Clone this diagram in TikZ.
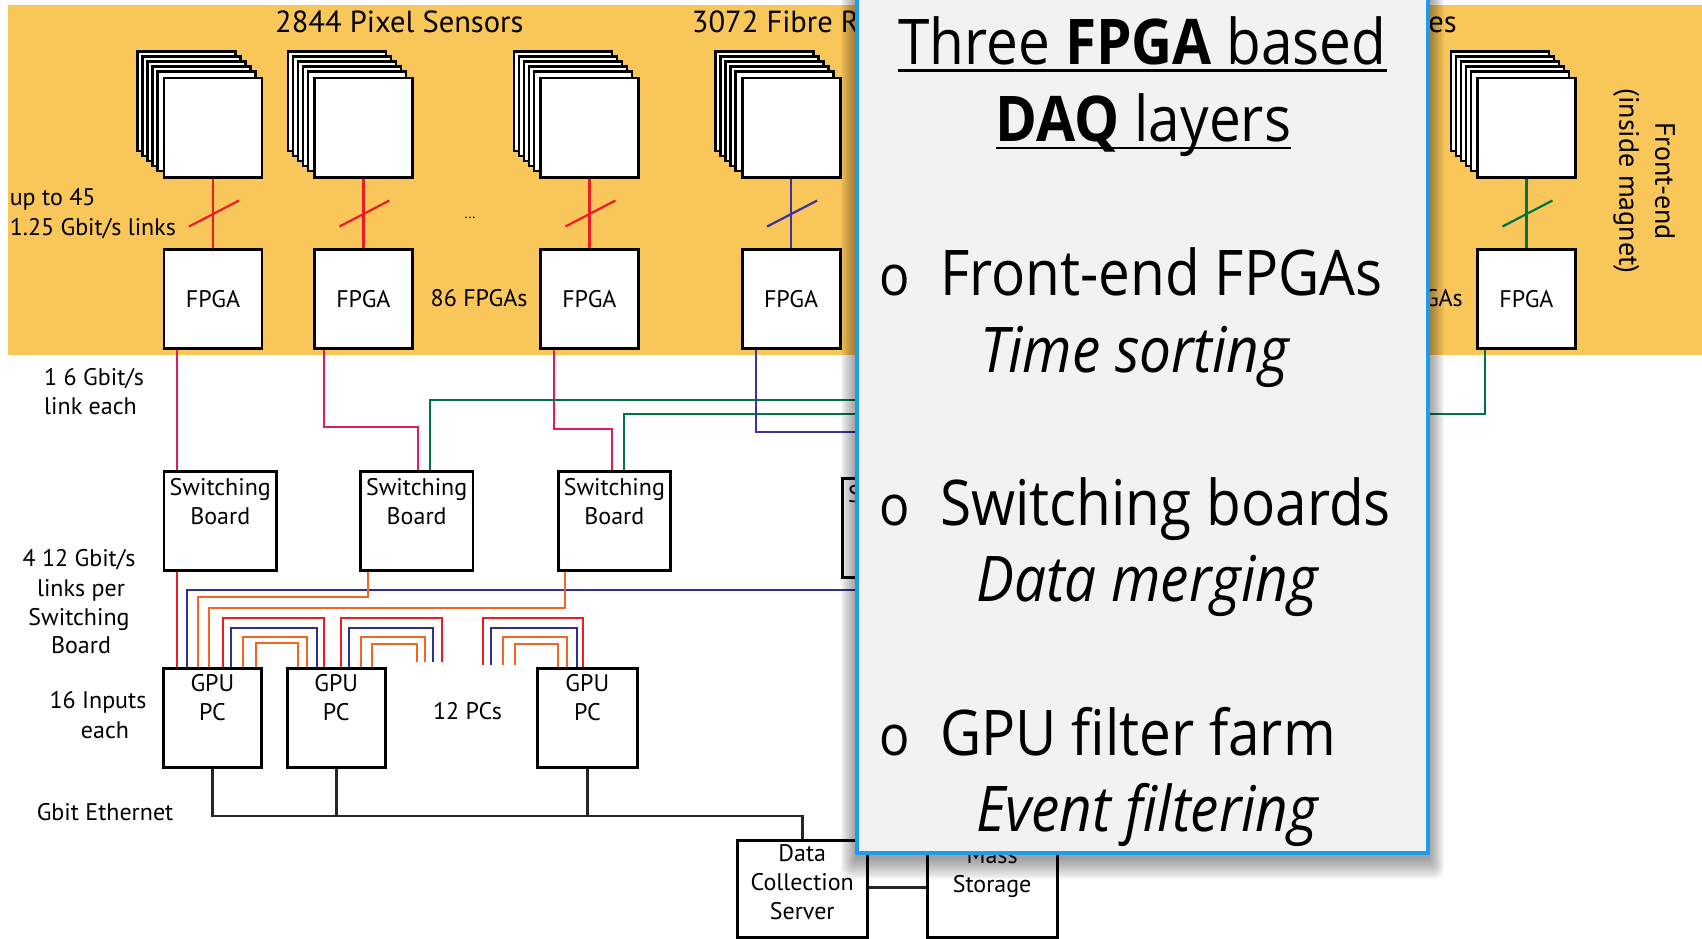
\documentclass[tikz,border=0pt]{standalone}
\usepackage{fontspec}
\setmainfont{PT Sans}
\newfontfamily\ovf[FakeStretch=0.9]{Open Sans}
\usetikzlibrary{calc}
\definecolor{band}{RGB}{249,198,90}
\definecolor{lred}{RGB}{237,28,36}
\definecolor{lmag}{RGB}{230,25,95}
\definecolor{lorg}{RGB}{242,101,34}
\definecolor{lblu}{RGB}{46,49,146}
\definecolor{lfib}{RGB}{60,50,160}
\definecolor{lgrn}{RGB}{0,115,70}
\definecolor{ovfill}{RGB}{242,242,242}
\definecolor{ovedge}{RGB}{30,155,235}
\begin{document}
\begin{tikzpicture}[x=1pt,y=-1pt,
  box/.style={draw=black,line width=2.8pt,fill=white,inner sep=0pt,anchor=north west},
  stk/.style={draw=black,line width=2.8pt,fill=white},
  lbl/.style={inner sep=0pt,font=\fontsize{24}{29}\selectfont},
  hd/.style={inner sep=0pt,font=\fontsize{30.5}{36}\selectfont},
  bt/.style={lbl,anchor=north,align=center},
  ln/.style={line width=2.2pt},
  eth/.style={line width=2.6pt,draw=black!85},
  ovt/.style={inner sep=0pt,font=\ovf\fontsize{63}{70}\selectfont},
  bul/.style={inner sep=0pt,font=\ovf\fontsize{56}{60}\selectfont}
]
\useasboundingbox (0,0) rectangle (1702,939);
\fill[white] (0,0) rectangle (1702,939);
\fill[band] (8,5) rectangle (1702,355);

% headings
\node[hd,anchor=base west] (h1) at (275,32.3) {2844 Pixel Sensors};
\node[hd,anchor=base west] (h2) at (691.7,32.3) {3072 Fibre Readout};
\node[hd,anchor=base east] (h3) at (1457,32.3) {5824 Tiles};

% sensor stacks and FPGAs
\foreach \n/\x in {1/162.6, 2/313, 3/539, 4/740.7, 5/1476} {
  \foreach \k in {5,4,3,2,1}
    \draw[stk] (\x-5*\k, 76.7-5*\k) rectangle ++(98,99.3);
  \node[box,minimum width=98pt,minimum height=99.3pt] (s\n) at (\x,76.7) {};
  \node[box,lbl,minimum width=98pt,minimum height=98.4pt] (f\n) at (\x,248.3) {FPGA};
}
\foreach \i/\c in {1/lred,2/lred,3/lred,4/lfib,5/lgrn} {
  \draw[ln,\c] (s\i.south) -- (f\i.north);
  \draw[ln,\c] ($(s\i.south)!0.5!(f\i.north)$) +(-24,13) -- +(26,-13);
}

% labels in band
\node[lbl,anchor=base west] (l1) at (9.6,205) {up to 45};
\node[lbl,anchor=base west] (l2) at (9.6,235) {1.25 Gbit/s links};
\node[inner sep=0pt,font=\fontsize{14}{16}\selectfont] (dots) at (470,218) {...};
\node[lbl,anchor=base west] (l3) at (430.5,306.7) {86 FPGAs};
\node[lbl,anchor=base east] (l4) at (1463,306.7) {FPGAs};
\node[inner sep=0pt,font=\fontsize{28}{36}\selectfont,rotate=-90,align=center] (fe) at (1644,181) {Front-end\\(inside magnet)};

% switching boards
\foreach \n/\x/\y in {1/162.6/470, 2/359/470, 3/556.7/470, 4/841/477} {
  \node[box,minimum width=112.5pt,minimum height=99.3pt] (sb\n) at (\x,\y) {};
}
\foreach \n in {1,2,3}
  \node[bt] (sbt\n) at ($(sb\n.north)+(0,4.7)$) {\strut Switching\\Board};
\node[bt] (sbt4) at ($(sb4.north)+(0,4.7)$) {\strut Switching};

% FPGA -> switching boards
\coordinate (gA) at (900,400);
\coordinate (bA) at (900,431.7);
\coordinate (bB) at (900,590);
\draw[ln,lmag] ($(f1.south west)+(14.2,0)$) -- ($(sb1.north west)+(14.2,0)$);
\draw[ln,lmag] ($(f2.south west)+(11,0)$) |- (418,427.3) -- ($(sb2.north west)+(59,0)$);
\draw[ln,lmag] ($(f3.south west)+(14.8,0)$) |- (611.7,429.3) -- ($(sb3.north west)+(55,0)$);
\draw[ln,lgrn] ($(sb2.north west)+(70.8,0)$) |- (gA);
\draw[ln,lgrn] ($(sb3.north west)+(67.6,0)$) |- ($(f5.south west)+(9,64.3)$) -- ($(f5.south west)+(9,0)$);
\draw[ln,lfib] ($(f4.south west)+(15.3,0)$) |- (bA);

\node[lbl,anchor=base west] (r1) at (44,385) {1 6 Gbit/s};
\node[lbl,anchor=base west] (r2) at (44,414) {link each};
\node[lbl,anchor=base] (q1) at (79,566.7) {4 12 Gbit/s};
\node[lbl,anchor=base] (q2) at (81,596.7) {links per};
\node[lbl,anchor=base] (q3) at (79,625) {Switching};
\node[lbl,anchor=base] (q4) at (81,653) {Board};

% GPU PCs
\foreach \n/\x/\w in {1/162/98, 2/285.7/98.3, 3/535.7/100.5} {
  \node[box,minimum width=\w pt,minimum height=99pt] (g\n) at (\x,666.7) {};
  \node[bt] (gt\n) at ($(g\n.north)+(0,4.7)$) {\strut GPU\\PC};
}
\node[lbl,anchor=base] (p1) at (98,708) {16 Inputs};
\node[lbl,anchor=base] (p2) at (105,738) {each};
\node[lbl,anchor=base] (p3) at (467.5,719) {12 PCs};

% switching boards -> GPUs
\draw[ln,lred] ($(sb1.south west)+(14.2,0)$) -- ($(g1.north west)+(14.8,0)$);
\draw[ln,lblu] (bB) -| ($(g1.north west)+(24.7,0)$);
\draw[ln,lorg] ($(sb2.south west)+(9,0)$) |- (198.3,596.7) -- ($(g1.north west)+(36.3,0)$);
\draw[ln,lorg] ($(sb3.south west)+(8.3,0)$) |- (209.3,607.7) -- ($(g1.north west)+(47.3,0)$);

\draw[ln,lred] ($(g1.north west)+(61.3,0)$) |- (324,618.3) -- ($(g2.north west)+(38.3,0)$);
\draw[ln,lblu] ($(g1.north west)+(69,0)$) |- (316.7,628.3) -- ($(g2.north west)+(31,0)$);
\draw[ln,lorg] ($(g1.north west)+(81.3,0)$) |- (306.7,636.7) -- ($(g2.north west)+(21,0)$);
\draw[ln,lorg] ($(g1.north west)+(94,0)$) |- (298.3,643.3) -- ($(g2.north west)+(12.6,0)$);

\coordinate (e1) at (442,662);
\coordinate (e2) at (433.3,662);
\coordinate (e3) at (425,662);
\coordinate (e4) at (416.7,662);
\draw[ln,lred] ($(g2.north west)+(55,0)$) |- (442,618.3) -- (e1);
\draw[ln,lblu] ($(g2.north west)+(63.6,0)$) |- (433.3,628.3) -- (e2);
\draw[ln,lorg] ($(g2.north west)+(75,0)$) |- (425,636.7) -- (e3);
\draw[ln,lorg] ($(g2.north west)+(86,0)$) |- (416.7,644) -- (e4);

\coordinate (k1) at (482.7,665);
\coordinate (k2) at (491,665);
\coordinate (k3) at (502.7,665);
\coordinate (k4) at (515,665);
\draw[ln,lred] (k1) |- (583.3,618.3) -- ($(g3.north west)+(47.6,0)$);
\draw[ln,lblu] (k2) |- (576.7,628.3) -- ($(g3.north west)+(41,0)$);
\draw[ln,lorg] (k3) |- (566.7,636.7) -- ($(g3.north west)+(31,0)$);
\draw[ln,lorg] (k4) |- (558.3,644) -- ($(g3.north west)+(22.6,0)$);

% servers
\node[box,minimum width=129.7pt,minimum height=96.7pt] (dcs) at (736,839.3) {};
\node[bt] (dcst) at ($(dcs.north)+(0,2.1)$) {\strut Data\\Collection\\Server};
\node[box,minimum width=130pt,minimum height=96.7pt] (ms) at (925.7,839.3) {};
\node[bt] (mst) at ($(ms.north)+(0,3.4)$) {\strut Mass\\Storage};

\draw[eth] (g1.south) -- ++(0,47.6) -| (dcs.north);
\draw[eth] (g2.south) -- ++(0,47.6);
\draw[eth] (g3.south) -- ++(0,47.6);
\draw[eth] ($(dcs.north east)+(0,48)$) -- ($(ms.north west)+(0,48)$);
\node[lbl,anchor=base west] (ge) at (36.6,820) {Gbit Ethernet};

% overlay shadow
\foreach \k in {1,...,10}
  \fill[black,opacity=0.045,rounded corners=\k pt] (857-1.6*\k,-10) rectangle (1428+1.6*\k,857+2.2*\k);
% overlay panel
\draw[fill=ovfill,draw=ovedge,line width=4pt] (857,-10) rectangle (1428,852.7);

\node[ovt,anchor=base] (t1) at (1142.5,65) {Three \textbf{FPGA} based};
\node[ovt,anchor=base] (t2) at (1143.5,141.7) {\textbf{DAQ} layers};
\draw[line width=2.5pt] ($(t1.base west)+(0,5.7)$) -- ($(t1.base east)+(0,5.7)$);
\draw[line width=2.5pt] ($(t2.base west)+(0,6.3)$) -- ($(t2.base east)+(0,6.3)$);

\node[bul,anchor=base west] (o1) at (879,295) {o};
\node[ovt,anchor=base west] (b1) at (940,295) {Front-end FPGAs};
\node[ovt,anchor=base west] (i1) at (980,372) {\itshape Time sorting};
\node[bul,anchor=base west] (o2) at (879,525) {o};
\node[ovt,anchor=base west] (b2) at (940,525) {Switching boards};
\node[ovt,anchor=base west] (i2) at (976,601.7) {\itshape Data merging};
\node[bul,anchor=base west] (o3) at (879,755) {o};
\node[ovt,anchor=base west] (b3) at (940,755) {GPU filter farm};
\node[ovt,anchor=base west] (i3) at (976,831.7) {\itshape Event filtering};
\end{tikzpicture}
\end{document}
